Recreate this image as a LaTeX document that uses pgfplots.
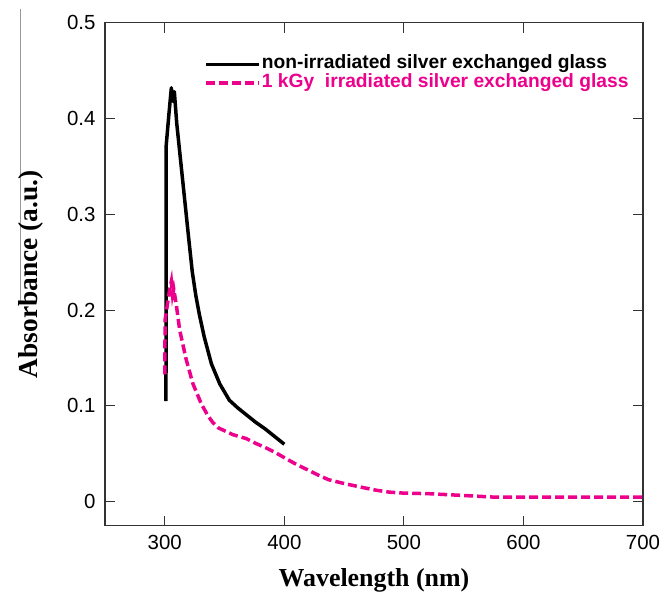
\documentclass[border=0pt]{standalone}
\usepackage{fontspec}
\setmainfont{Liberation Sans}
\newfontfamily\timesfont{Liberation Serif}
\usepackage{pgfplots}
\pgfplotsset{compat=1.18}
\definecolor{mypink}{RGB}{236,0,140}
\begin{document}
\begin{tikzpicture}
\path[use as bounding box] (0,0) rectangle (662bp,594bp);
\draw[gray!80, line width=1bp] (20bp,585bp) -- (20bp,292bp);
\begin{axis}[
  at={(105bp,68.3bp)}, anchor=south west,
  scale only axis, width=538bp, height=503bp,
  xmin=250, xmax=700, ymin=-0.025, ymax=0.5,
  xtick={300,400,500,600,700},
  ytick={0,0.1,0.2,0.3,0.4,0.5},
  tick align=inside,
  major tick length=10bp,
  axis line style={line width=1.2bp, black!80},
  tick style={line width=1bp, black!80},
  /pgf/number format/assume math mode=true,
  tick label style={font=\fontsize{20.5}{23}\selectfont},
  xticklabel style={yshift=-6bp},
  yticklabel style={xshift=-6bp},
  xlabel={Wavelength (nm)},
  ylabel={Absorbance (a.u.)},
  xlabel style={font=\timesfont\bfseries\fontsize{26}{29}\selectfont,
    at={(axis description cs:0.5,-0.121)}, anchor=base},
  ylabel style={font=\timesfont\bfseries\fontsize{27.5}{30}\selectfont,
    at={(axis description cs:-0.137,0.5)}, anchor=center},
  legend style={at={(axis cs:333,0.466)}, anchor=north west, draw=none, fill=none,
    inner sep=0pt, row sep=0pt,
    nodes={inner sep=1bp, text height=12.5bp, text depth=4bp},
    font=\bfseries\fontsize{19.3}{21}\selectfont},
  legend cell align=left,
  legend image code/.code={\draw[#1] (0bp,0bp) -- (53bp,0bp);},
]
\addplot[black, line width=3.5bp, line join=round] coordinates {
(301,0.105)(301.2,0.372)(303.5,0.405)(305.5,0.432)(306.8,0.418)(308,0.428)
(310,0.395)(315,0.335)(320,0.275)(323,0.24)(326,0.215)(329,0.195)(333,0.172)
(339,0.144)(346,0.123)(354,0.106)(361,0.098)(368,0.091)(376,0.083)(384,0.076)
(392,0.068)(400,0.06)};
\addlegendentry{non-irradiated silver exchanged glass}
\addplot[mypink, line width=3.5bp, dash pattern=on 9bp off 4bp] coordinates {
(300,0.133)(300.3,0.19)(304,0.221)(305.5,0.23)(306.5,0.216)(307.5,0.222)
(309.7,0.205)(312.5,0.179)(318,0.148)(323.6,0.123)(330.6,0.102)(336,0.09)
(340,0.083)(345,0.077)(351,0.0735)(357,0.07)(368,0.066)(376,0.061)(385,0.056)
(393,0.051)(400,0.046)(410,0.039)(420,0.033)(428,0.028)(437,0.023)(450,0.019)
(465,0.015)(477,0.012)(488,0.010)(500,0.009)(521,0.0084)(549,0.0066)
(576,0.0048)(600,0.0048)(650,0.0048)(700,0.0048)};
\addlegendentry[text=mypink]{1 kGy\ \ irradiated silver exchanged glass}
\end{axis}
\end{tikzpicture}
\end{document}
